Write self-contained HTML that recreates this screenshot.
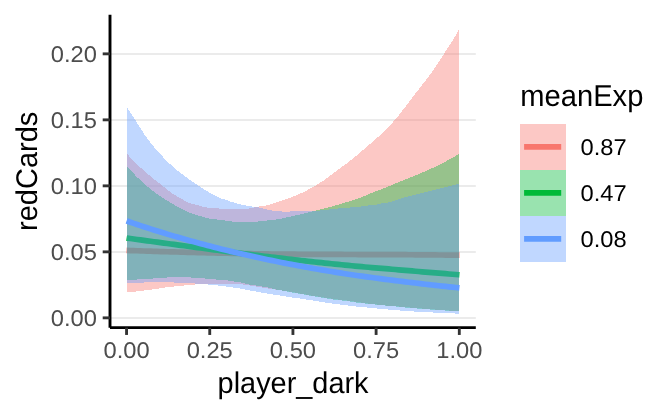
<!DOCTYPE html>
<html lang="en"><head><meta charset="utf-8"><title>redCards by player_dark and meanExp</title>
<style>
html,body{margin:0;padding:0;background:#fff}
svg{display:block}
text{font-family:"Liberation Sans",Arial,Helvetica,sans-serif;text-rendering:geometricPrecision}
.tick{font-size:23.47px;fill:#4d4d4d}
.ttl{font-size:29.33px;fill:#000}
.lab{font-size:23.47px;fill:#000}
</style></head><body>
<svg width="672" height="415" viewBox="0 0 672 415">
<rect width="672" height="415" fill="#fff"/>
<g stroke="#ebebeb" stroke-width="1.8" fill="none">
<line x1="110.0" x2="475.8" y1="318.00" y2="318.00"/>
<line x1="110.0" x2="475.8" y1="252.00" y2="252.00"/>
<line x1="110.0" x2="475.8" y1="186.00" y2="186.00"/>
<line x1="110.0" x2="475.8" y1="120.00" y2="120.00"/>
<line x1="110.0" x2="475.8" y1="54.00" y2="54.00"/>
</g>
<polygon points="127.00,153.80 130.35,157.49 133.71,160.99 137.06,164.33 140.41,167.49 143.77,170.44 147.12,173.39 150.47,176.31 153.83,179.04 157.18,181.63 160.54,184.22 163.89,186.95 167.24,189.74 170.60,192.28 173.95,194.48 177.30,196.49 180.66,198.40 184.01,200.31 187.36,202.06 190.72,203.44 194.07,204.34 197.42,205.15 200.78,206.16 204.13,207.02 207.48,207.57 210.84,207.94 214.19,208.23 217.55,208.44 220.90,208.58 224.25,208.71 227.61,208.81 230.96,208.88 234.31,208.90 237.67,208.88 241.02,208.84 244.37,208.75 247.73,208.62 251.08,208.28 254.43,207.25 257.79,206.75 261.14,206.26 264.49,205.76 267.85,205.10 271.20,204.16 274.56,202.98 277.91,201.90 281.26,200.81 284.62,199.66 287.97,198.46 291.32,197.21 294.68,195.89 298.03,194.53 301.38,193.06 304.74,191.44 308.09,189.72 311.44,187.91 314.80,185.98 318.15,183.93 321.51,181.83 324.86,179.63 328.21,177.24 331.57,174.70 334.92,172.12 338.27,169.61 341.63,167.15 344.98,164.68 348.33,162.15 351.69,159.52 355.04,156.78 358.39,153.96 361.75,151.11 365.10,148.24 368.45,145.34 371.81,142.40 375.16,139.43 378.52,136.50 381.87,133.51 385.22,130.30 388.58,126.89 391.93,123.29 395.28,119.50 398.64,115.47 401.99,111.20 405.34,106.81 408.70,102.39 412.05,98.02 415.40,93.63 418.76,89.22 422.11,84.88 425.46,80.63 428.82,76.31 432.17,71.76 435.53,66.85 438.88,61.69 442.23,56.47 445.59,51.35 448.94,46.30 452.29,41.02 455.65,35.37 459.00,29.40 459.00,311.10 455.65,310.92 452.29,310.72 448.94,310.51 445.59,310.28 442.23,310.03 438.88,309.78 435.53,309.52 432.17,309.27 428.82,309.02 425.46,308.77 422.11,308.51 418.76,308.24 415.40,307.96 412.05,307.67 408.70,307.38 405.34,307.07 401.99,306.76 398.64,306.47 395.28,306.21 391.93,305.97 388.58,305.71 385.22,305.42 381.87,305.07 378.52,304.70 375.16,304.33 371.81,303.96 368.45,303.57 365.10,303.13 361.75,302.66 358.39,302.17 355.04,301.67 351.69,301.17 348.33,300.71 344.98,300.29 341.63,299.89 338.27,299.52 334.92,299.15 331.57,298.68 328.21,298.10 324.86,297.57 321.51,297.07 318.15,296.57 314.80,296.08 311.44,295.53 308.09,294.91 304.74,294.30 301.38,293.69 298.03,293.08 294.68,292.46 291.32,291.86 287.97,291.28 284.62,290.78 281.26,290.37 277.91,289.96 274.56,289.51 271.20,289.05 267.85,288.56 264.49,287.96 261.14,287.35 257.79,286.78 254.43,286.24 251.08,285.74 247.73,285.20 244.37,284.64 241.02,284.37 237.67,284.19 234.31,284.06 230.96,283.98 227.61,283.91 224.25,283.85 220.90,283.81 217.55,283.80 214.19,283.82 210.84,283.87 207.48,283.94 204.13,284.02 200.78,284.17 197.42,284.36 194.07,284.58 190.72,284.85 187.36,285.17 184.01,285.49 180.66,285.81 177.30,286.15 173.95,286.49 170.60,286.85 167.24,287.23 163.89,287.68 160.54,288.24 157.18,288.76 153.83,289.25 150.47,289.70 147.12,290.10 143.77,290.50 140.41,290.92 137.06,291.34 133.71,291.74 130.35,292.12 127.00,292.50" fill="#F8766D" fill-opacity="0.4" shape-rendering="crispEdges"/>
<polyline points="126.60,250.39 127.00,250.41 130.35,250.53 133.71,250.64 137.06,250.76 140.41,250.88 143.77,250.99 147.12,251.11 150.47,251.22 153.83,251.33 157.18,251.44 160.54,251.54 163.89,251.64 167.24,251.74 170.60,251.84 173.95,251.93 177.30,252.02 180.66,252.11 184.01,252.20 187.36,252.28 190.72,252.37 194.07,252.45 197.42,252.54 200.78,252.62 204.13,252.71 207.48,252.79 210.84,252.87 214.19,252.95 217.55,253.03 220.90,253.11 224.25,253.19 227.61,253.26 230.96,253.33 234.31,253.41 237.67,253.47 241.02,253.54 244.37,253.60 247.73,253.67 251.08,253.72 254.43,253.78 257.79,253.83 261.14,253.88 264.49,253.93 267.85,253.97 271.20,254.01 274.56,254.05 277.91,254.08 281.26,254.11 284.62,254.14 287.97,254.17 291.32,254.19 294.68,254.22 298.03,254.24 301.38,254.26 304.74,254.28 308.09,254.30 311.44,254.32 314.80,254.33 318.15,254.35 321.51,254.36 324.86,254.38 328.21,254.40 331.57,254.41 334.92,254.43 338.27,254.44 341.63,254.46 344.98,254.48 348.33,254.50 351.69,254.51 355.04,254.52 358.39,254.53 361.75,254.54 365.10,254.55 368.45,254.55 371.81,254.56 375.16,254.57 378.52,254.57 381.87,254.58 385.22,254.59 388.58,254.61 391.93,254.62 395.28,254.64 398.64,254.66 401.99,254.68 405.34,254.71 408.70,254.73 412.05,254.76 415.40,254.78 418.76,254.81 422.11,254.84 425.46,254.86 428.82,254.89 432.17,254.92 435.53,254.95 438.88,254.98 442.23,255.02 445.59,255.05 448.94,255.08 452.29,255.12 455.65,255.16 459.00,255.20 459.40,255.20" fill="none" stroke="#F8766D" stroke-width="5.7" stroke-linejoin="round"/>
<polygon points="127.00,166.40 130.35,170.12 133.71,173.69 137.06,177.08 140.41,180.29 143.77,183.36 147.12,186.31 150.47,189.10 153.83,191.67 157.18,194.01 160.54,196.30 163.89,198.52 167.24,200.68 170.60,202.75 173.95,204.75 177.30,206.64 180.66,208.42 184.01,210.09 187.36,211.63 190.72,213.04 194.07,214.21 197.42,215.27 200.78,216.19 204.13,217.23 207.48,218.21 210.84,218.81 214.19,219.19 217.55,219.57 220.90,219.99 224.25,220.43 227.61,220.94 230.96,221.42 234.31,221.65 237.67,221.82 241.02,221.94 244.37,222.00 247.73,221.97 251.08,221.88 254.43,221.74 257.79,221.56 261.14,221.28 264.49,220.82 267.85,220.41 271.20,220.11 274.56,219.78 277.91,219.29 281.26,218.63 284.62,217.90 287.97,217.16 291.32,216.44 294.68,215.69 298.03,214.92 301.38,214.15 304.74,213.36 308.09,212.55 311.44,211.73 314.80,210.91 318.15,210.07 321.51,209.22 324.86,208.34 328.21,207.44 331.57,206.51 334.92,205.56 338.27,204.59 341.63,203.61 344.98,202.61 348.33,201.58 351.69,200.52 355.04,199.46 358.39,198.35 361.75,197.17 365.10,195.84 368.45,194.35 371.81,192.95 375.16,191.64 378.52,190.36 381.87,189.05 385.22,187.70 388.58,186.32 391.93,184.94 395.28,183.57 398.64,182.20 401.99,180.84 405.34,179.48 408.70,178.12 412.05,176.77 415.40,175.42 418.76,174.05 422.11,172.63 425.46,171.17 428.82,169.69 432.17,168.15 435.53,166.57 438.88,164.94 442.23,163.25 445.59,161.50 448.94,159.69 452.29,157.82 455.65,155.89 459.00,153.90 459.00,311.30 455.65,311.12 452.29,310.93 448.94,310.74 445.59,310.54 442.23,310.33 438.88,310.10 435.53,309.88 432.17,309.64 428.82,309.40 425.46,309.15 422.11,308.90 418.76,308.64 415.40,308.37 412.05,308.11 408.70,307.83 405.34,307.52 401.99,307.17 398.64,306.77 395.28,306.42 391.93,306.12 388.58,305.83 385.22,305.54 381.87,305.22 378.52,304.88 375.16,304.54 371.81,304.18 368.45,303.82 365.10,303.47 361.75,303.15 358.39,302.83 355.04,302.44 351.69,301.82 348.33,301.30 344.98,300.88 341.63,300.49 338.27,300.12 334.92,299.75 331.57,299.28 328.21,298.70 324.86,298.18 321.51,297.68 318.15,297.10 314.80,296.48 311.44,295.90 308.09,295.29 304.74,294.65 301.38,294.08 298.03,293.52 294.68,292.94 291.32,292.31 287.97,291.63 284.62,290.99 281.26,290.37 277.91,289.80 274.56,289.15 271.20,288.37 267.85,287.45 264.49,286.91 261.14,286.41 257.79,285.82 254.43,285.28 251.08,284.81 247.73,284.19 244.37,283.33 241.02,282.47 237.67,281.98 234.31,281.56 230.96,281.01 227.61,280.50 224.25,280.17 220.90,279.91 217.55,279.65 214.19,279.36 210.84,279.04 207.48,278.72 204.13,278.43 200.78,278.15 197.42,277.88 194.07,277.66 190.72,277.50 187.36,277.38 184.01,277.28 180.66,277.22 177.30,277.20 173.95,277.25 170.60,277.35 167.24,277.47 163.89,277.63 160.54,277.89 157.18,278.18 153.83,278.46 150.47,278.68 147.12,278.91 143.77,279.12 140.41,279.32 137.06,279.49 133.71,279.65 130.35,279.78 127.00,279.90" fill="#00BA38" fill-opacity="0.4" shape-rendering="crispEdges"/>
<polyline points="126.60,238.01 127.00,238.07 130.35,238.53 133.71,238.99 137.06,239.45 140.41,239.91 143.77,240.37 147.12,240.82 150.47,241.28 153.83,241.73 157.18,242.19 160.54,242.64 163.89,243.09 167.24,243.54 170.60,243.99 173.95,244.44 177.30,244.89 180.66,245.33 184.01,245.78 187.36,246.23 190.72,246.68 194.07,247.13 197.42,247.58 200.78,248.03 204.13,248.47 207.48,248.92 210.84,249.37 214.19,249.82 217.55,250.26 220.90,250.71 224.25,251.15 227.61,251.59 230.96,252.03 234.31,252.46 237.67,252.90 241.02,253.33 244.37,253.75 247.73,254.17 251.08,254.59 254.43,255.00 257.79,255.41 261.14,255.82 264.49,256.22 267.85,256.62 271.20,257.02 274.56,257.41 277.91,257.80 281.26,258.20 284.62,258.59 287.97,258.97 291.32,259.36 294.68,259.74 298.03,260.12 301.38,260.49 304.74,260.87 308.09,261.24 311.44,261.60 314.80,261.97 318.15,262.33 321.51,262.69 324.86,263.05 328.21,263.40 331.57,263.75 334.92,264.09 338.27,264.44 341.63,264.77 344.98,265.11 348.33,265.44 351.69,265.76 355.04,266.07 358.39,266.38 361.75,266.68 365.10,266.97 368.45,267.26 371.81,267.55 375.16,267.84 378.52,268.12 381.87,268.40 385.22,268.68 388.58,268.96 391.93,269.24 395.28,269.53 398.64,269.81 401.99,270.10 405.34,270.38 408.70,270.67 412.05,270.95 415.40,271.23 418.76,271.51 422.11,271.79 425.46,272.06 428.82,272.34 432.17,272.61 435.53,272.89 438.88,273.16 442.23,273.43 445.59,273.70 448.94,273.97 452.29,274.24 455.65,274.51 459.00,274.78 459.40,274.81" fill="none" stroke="#00BA38" stroke-width="5.7" stroke-linejoin="round"/>
<polygon points="127.00,107.20 130.35,112.41 133.71,117.60 137.06,122.84 140.41,128.21 143.77,133.47 147.12,138.35 150.47,142.74 153.83,146.82 157.18,150.67 160.54,154.36 163.89,157.93 167.24,161.35 170.60,164.58 173.95,167.60 177.30,170.40 180.66,173.06 184.01,175.61 187.36,178.10 190.72,180.50 194.07,182.81 197.42,185.05 200.78,187.23 204.13,189.33 207.48,191.35 210.84,193.28 214.19,195.23 217.55,197.05 220.90,198.47 224.25,199.35 227.61,200.39 230.96,201.77 234.31,202.66 237.67,203.71 241.02,204.50 244.37,205.20 247.73,205.81 251.08,206.36 254.43,206.85 257.79,207.32 261.14,208.03 264.49,208.88 267.85,209.69 271.20,210.39 274.56,210.84 277.91,211.19 281.26,211.46 284.62,211.67 287.97,211.62 291.32,211.46 294.68,211.35 298.03,211.26 301.38,211.17 304.74,211.07 308.09,210.97 311.44,210.86 314.80,210.74 318.15,210.60 321.51,210.38 324.86,210.00 328.21,209.57 331.57,209.18 334.92,208.81 338.27,208.47 341.63,208.18 344.98,207.91 348.33,207.65 351.69,207.36 355.04,207.08 358.39,206.77 361.75,206.41 365.10,205.94 368.45,205.47 371.81,205.11 375.16,204.76 378.52,204.18 381.87,203.40 385.22,202.93 388.58,202.36 391.93,201.45 395.28,200.31 398.64,199.13 401.99,198.06 405.34,197.16 408.70,196.32 412.05,195.52 415.40,194.72 418.76,193.91 422.11,193.06 425.46,192.20 428.82,191.32 432.17,190.46 435.53,189.61 438.88,188.77 442.23,187.94 445.59,187.10 448.94,186.27 452.29,185.44 455.65,184.62 459.00,183.80 459.00,313.70 455.65,313.53 452.29,313.37 448.94,313.21 445.59,313.07 442.23,312.92 438.88,312.77 435.53,312.62 432.17,312.46 428.82,312.29 425.46,312.13 422.11,311.95 418.76,311.77 415.40,311.57 412.05,311.36 408.70,311.14 405.34,310.90 401.99,310.64 398.64,310.39 395.28,310.12 391.93,309.84 388.58,309.55 385.22,309.26 381.87,308.95 378.52,308.64 375.16,308.32 371.81,307.98 368.45,307.64 365.10,307.32 361.75,307.03 358.39,306.73 355.04,306.38 351.69,305.97 348.33,305.54 344.98,305.12 341.63,304.69 338.27,304.27 334.92,303.84 331.57,303.40 328.21,302.95 324.86,302.46 321.51,301.91 318.15,301.34 314.80,300.79 311.44,300.27 308.09,299.80 304.74,299.28 301.38,298.70 298.03,298.22 294.68,297.81 291.32,297.36 287.97,296.82 284.62,296.27 281.26,295.69 277.91,295.17 274.56,294.70 271.20,294.19 267.85,293.64 264.49,293.07 261.14,292.47 257.79,291.83 254.43,291.23 251.08,290.66 247.73,290.02 244.37,289.35 241.02,288.66 237.67,288.13 234.31,287.67 230.96,287.18 227.61,286.69 224.25,286.25 220.90,285.85 217.55,285.47 214.19,285.11 210.84,284.77 207.48,284.45 204.13,284.16 200.78,283.89 197.42,283.64 194.07,283.43 190.72,283.24 187.36,283.06 184.01,282.89 180.66,282.74 177.30,282.61 173.95,282.50 170.60,282.41 167.24,282.32 163.89,282.25 160.54,282.20 157.18,282.21 153.83,282.25 150.47,282.32 147.12,282.41 143.77,282.50 140.41,282.60 137.06,282.73 133.71,282.87 130.35,283.03 127.00,283.20" fill="#619CFF" fill-opacity="0.4" shape-rendering="crispEdges"/>
<polyline points="126.60,220.91 127.00,221.05 130.35,222.21 133.71,223.35 137.06,224.48 140.41,225.60 143.77,226.71 147.12,227.80 150.47,228.89 153.83,229.96 157.18,231.02 160.54,232.06 163.89,233.09 167.24,234.11 170.60,235.12 173.95,236.12 177.30,237.10 180.66,238.07 184.01,239.02 187.36,239.97 190.72,240.91 194.07,241.84 197.42,242.76 200.78,243.66 204.13,244.56 207.48,245.45 210.84,246.33 214.19,247.20 217.55,248.05 220.90,248.90 224.25,249.74 227.61,250.57 230.96,251.38 234.31,252.19 237.67,252.99 241.02,253.77 244.37,254.55 247.73,255.32 251.08,256.07 254.43,256.82 257.79,257.55 261.14,258.28 264.49,258.99 267.85,259.70 271.20,260.39 274.56,261.08 277.91,261.76 281.26,262.43 284.62,263.09 287.97,263.74 291.32,264.39 294.68,265.03 298.03,265.66 301.38,266.28 304.74,266.89 308.09,267.50 311.44,268.10 314.80,268.69 318.15,269.27 321.51,269.85 324.86,270.42 328.21,270.98 331.57,271.54 334.92,272.09 338.27,272.63 341.63,273.16 344.98,273.69 348.33,274.21 351.69,274.72 355.04,275.21 358.39,275.70 361.75,276.17 365.10,276.64 368.45,277.10 371.81,277.55 375.16,278.00 378.52,278.44 381.87,278.87 385.22,279.31 388.58,279.73 391.93,280.16 395.28,280.58 398.64,281.00 401.99,281.41 405.34,281.83 408.70,282.24 412.05,282.64 415.40,283.04 418.76,283.44 422.11,283.83 425.46,284.21 428.82,284.60 432.17,284.97 435.53,285.35 438.88,285.72 442.23,286.09 445.59,286.45 448.94,286.81 452.29,287.17 455.65,287.52 459.00,287.87 459.40,287.91" fill="none" stroke="#619CFF" stroke-width="5.7" stroke-linejoin="round"/>
<g stroke="#000" stroke-width="2.9" fill="none" stroke-linecap="butt">
<line x1="110.0" x2="110.0" y1="14.7" y2="327.65"/>
<line x1="110.0" x2="475.8" y1="327.65" y2="327.65"/>
</g>
<g stroke="#333" stroke-width="2.85" fill="none">
<line x1="102.7" x2="110.0" y1="317.85" y2="317.85"/>
<line x1="102.7" x2="110.0" y1="251.85" y2="251.85"/>
<line x1="102.7" x2="110.0" y1="185.85" y2="185.85"/>
<line x1="102.7" x2="110.0" y1="119.85" y2="119.85"/>
<line x1="102.7" x2="110.0" y1="53.85" y2="53.85"/>
<line x1="126.55" x2="126.55" y1="327.65" y2="334.95"/>
<line x1="209.74" x2="209.74" y1="327.65" y2="334.95"/>
<line x1="292.93" x2="292.93" y1="327.65" y2="334.95"/>
<line x1="376.11" x2="376.11" y1="327.65" y2="334.95"/>
<line x1="459.30" x2="459.30" y1="327.65" y2="334.95"/>
</g>
<text class="tick" text-anchor="end" transform="translate(96.90,326.40) scale(1.01,0.97)">0.00</text>
<text class="tick" text-anchor="end" transform="translate(96.90,260.40) scale(1.01,0.97)">0.05</text>
<text class="tick" text-anchor="end" transform="translate(96.90,194.40) scale(1.01,0.97)">0.10</text>
<text class="tick" text-anchor="end" transform="translate(96.90,128.40) scale(1.01,0.97)">0.15</text>
<text class="tick" text-anchor="end" transform="translate(96.90,62.40) scale(1.01,0.97)">0.20</text>
<text class="tick" text-anchor="middle" transform="translate(126.55,358.00) scale(1.01,0.97)">0.00</text>
<text class="tick" text-anchor="middle" transform="translate(209.74,358.00) scale(1.01,0.97)">0.25</text>
<text class="tick" text-anchor="middle" transform="translate(292.93,358.00) scale(1.01,0.97)">0.50</text>
<text class="tick" text-anchor="middle" transform="translate(376.11,358.00) scale(1.01,0.97)">0.75</text>
<text class="tick" text-anchor="middle" transform="translate(459.30,358.00) scale(1.01,0.97)">1.00</text>
<text class="ttl" text-anchor="middle" transform="translate(293.10,393.00) scale(0.985,1.02)">player_dark</text>
<text class="ttl" text-anchor="middle" transform="translate(36.60,171.30) rotate(-90) scale(0.9887,1.02)">redCards</text>
<text class="ttl" text-anchor="start" transform="translate(520.30,106.00) scale(0.993,1.03)">meanExp</text>
<rect x="520.3" y="123.90" width="45.95" height="45.95" fill="#F8766D" fill-opacity="0.4" shape-rendering="crispEdges"/>
<line x1="524.1" x2="561.2" y1="146.88" y2="146.88" stroke="#F8766D" stroke-width="5.7"/>
<text class="lab" text-anchor="start" transform="translate(580.45,155.28) scale(1.01,0.97)">0.87</text>
<rect x="520.3" y="169.85" width="45.95" height="45.95" fill="#00BA38" fill-opacity="0.4" shape-rendering="crispEdges"/>
<line x1="524.1" x2="561.2" y1="192.83" y2="192.83" stroke="#00BA38" stroke-width="5.7"/>
<text class="lab" text-anchor="start" transform="translate(580.45,201.23) scale(1.01,0.97)">0.47</text>
<rect x="520.3" y="215.80" width="45.95" height="45.95" fill="#619CFF" fill-opacity="0.4" shape-rendering="crispEdges"/>
<line x1="524.1" x2="561.2" y1="238.78" y2="238.78" stroke="#619CFF" stroke-width="5.7"/>
<text class="lab" text-anchor="start" transform="translate(580.45,247.18) scale(1.01,0.97)">0.08</text>
</svg>
</body></html>
